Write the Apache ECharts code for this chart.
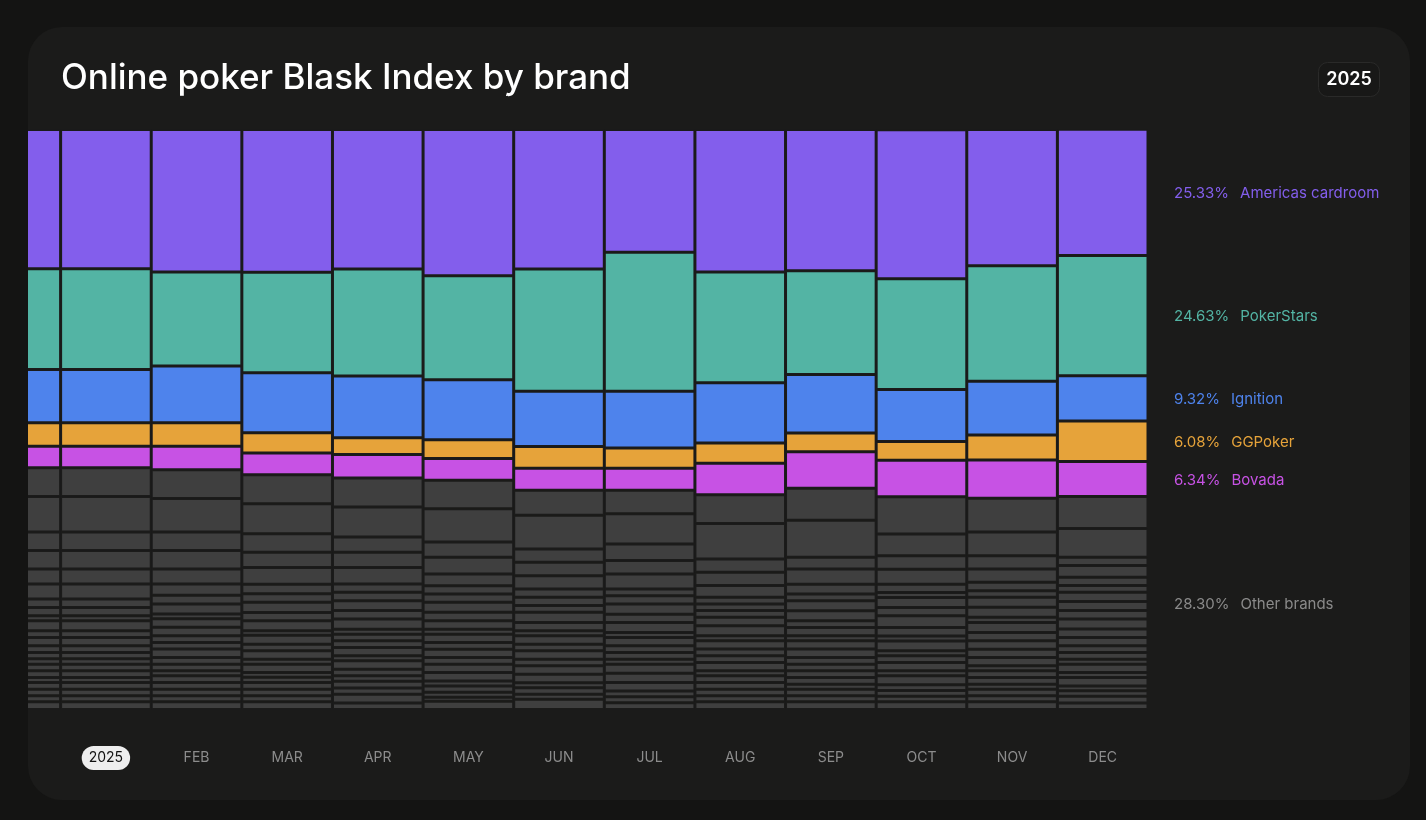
<!DOCTYPE html>
<html>
<head>
<meta charset="utf-8">
<script src="https://cdn.jsdelivr.net/npm/echarts@6/dist/echarts.min.js"></script>
<style>
  html, body { margin: 0; padding: 0; background: #141413; width: 1426px; height: 820px; overflow: hidden; }
  #card { position: absolute; left: 28px; top: 27px; width: 1382px; height: 773px; background: #1b1b1a; border-radius: 34px; overflow: hidden; }
  /* chart canvas starts 30px left of the page edge so the previous column is cut by the card */
  #chart { position: absolute; left: -58px; top: -27px; width: 1456px; height: 820px; }
</style>
</head>
<body>
<div id="card"><div id="chart"></div></div>
<script>
// Categories (first is the partially visible previous column)
const months = ['', '2025', 'FEB', 'MAR', 'APR', 'MAY', 'JUN', 'JUL', 'AUG', 'SEP', 'OCT', 'NOV', 'DEC'];

// Brand shares (%)
const americas   = [24.05, 24.05, 24.57, 24.60, 24.05, 25.21, 24.05, 21.16, 24.57, 24.34, 25.72, 23.48, 21.76];
const pokerstars = [17.33, 17.33, 16.24, 17.34, 18.48, 17.93, 21.07, 23.97, 19.10, 17.90, 19.07, 19.91, 20.74];
const ignition   = [9.19, 9.19, 9.76, 10.34, 10.62, 10.34, 9.53, 9.79, 10.38, 10.09, 8.97, 9.28, 7.81];
const ggpoker    = [4.05, 4.05, 4.05, 3.48, 2.91, 3.24, 3.74, 3.48, 3.50, 3.22, 3.22, 4.31, 6.97];
const bovada     = [3.74, 3.74, 4.05, 3.74, 4.02, 3.74, 3.79, 3.79, 5.43, 6.29, 6.33, 6.60, 6.03];

// Legend labels
const brandNames = ['Americas cardroom', 'PokerStars', 'Ignition', 'GGPoker', 'Bovada'];
const brandPct   = ['25.33%', '24.63%', '9.32%', '6.08%', '6.34%'];
const otherName  = 'Other brands';
const otherPct   = '28.30%';

// Other brands segments per column, top to bottom (%)
const oPREV = [4.95,6.09,3.22,3.16,2.62,2.55,1.47,1.43,0.86,1.72,1.16,1.43,1.16,1.09,0.93,1.14,1.16,0.86,1.16,1.14,1.02,1.34];
const oJAN  = [4.95,6.09,3.22,3.16,2.62,2.55,1.47,1.43,0.86,1.72,1.16,1.43,1.16,1.09,0.93,1.14,1.16,0.86,1.16,1.14,1.02,1.34];
const oFEB  = [4.95,5.78,3.19,3.19,2.62,1.91,1.53,1.72,0.83,1.47,1.43,1.16,1.16,1.43,1.16,1.14,0.86,1.16,1.16,1.14,1.02,1.34];
const oMAR  = [5.00,5.17,3.21,2.62,2.88,1.66,1.47,1.76,1.43,1.72,0.78,1.53,1.14,1.45,0.86,1.43,0.81,0.91,1.16,1.14,1.02,1.34];
const oAPR  = [5.00,5.17,2.64,2.62,2.88,1.40,1.45,1.69,1.47,1.76,0.86,1.14,1.16,1.43,0.86,1.45,1.14,0.93,1.17,1.09,1.50,1.12];
const oMAY  = [4.91,5.74,2.64,2.88,2.02,1.43,1.43,1.72,1.47,1.45,0.86,1.43,1.16,1.43,1.16,1.43,1.47,0.86,1.07,0.86,0.71,1.41];
const oJUN  = [4.33,5.81,2.29,2.31,2.29,1.43,1.45,1.14,1.76,1.43,0.86,1.45,1.14,1.45,1.14,1.45,1.47,0.86,1.14,0.86,1.76];
const oJUL  = [4.05,5.22,2.88,2.29,2.59,1.16,1.43,1.76,1.43,1.72,0.86,1.43,1.16,1.16,0.86,1.57,1.59,1.47,1.00,1.02,1.17];
const oAUG  = [4.98,6.09,2.29,2.31,2.00,1.16,1.12,1.17,1.47,1.72,0.86,1.45,1.14,1.16,1.43,0.86,1.16,1.16,1.14,1.02,1.34];
const oSEP  = [5.53,6.38,2.02,2.62,1.69,1.16,1.72,1.72,1.17,1.43,0.86,1.45,1.43,1.16,1.14,1.16,1.16,0.86,1.14,1.02,1.34];
const oOCT  = [6.38,3.79,2.29,2.62,1.40,0.86,1.72,1.45,2.03,1.43,0.86,1.72,0.86,1.16,1.43,0.86,1.53,1.00,0.98,0.95,1.34];
const oNOV  = [5.81,4.09,2.29,2.29,1.45,1.14,1.72,1.72,0.90,1.72,1.43,1.45,1.43,1.43,0.86,1.16,1.16,0.86,1.14,1.02,1.34];
const oDEC  = [5.52,4.93,1.45,2.00,1.45,1.14,1.59,1.59,1.43,1.76,1.43,1.43,1.16,1.16,0.86,1.43,0.86,1.47,0.83,0.95,1.16,1.12];

const otherCols = [oPREV, oJAN, oFEB, oMAR, oAPR, oMAY, oJUN, oJUL, oAUG, oSEP, oOCT, oNOV, oDEC];

const OX = 30; // chart canvas x offset relative to page
const BG = '#1b1b1a';
const FONT = 'Inter, "Noto Sans", sans-serif';
const colors = {
  'Americas cardroom': '#835EEC',
  'PokerStars': '#53B4A4',
  'Ignition': '#4E83EC',
  'GGPoker': '#E6A33A',
  'Bovada': '#C752E4'
};
const grayFill = '#3f3f3f';
const itemBase = { borderColor: BG, borderWidth: 1.5 };

const series = [];
const maxLen = Math.max(...otherCols.map(a => a.length));
for (let k = 0; k < maxLen; k++) {
  series.push({
    type: 'bar', stack: 'all', name: 'other' + k,
    barCategoryGap: '0%',
    itemStyle: Object.assign({ color: grayFill }, itemBase),
    data: otherCols.map(a => (k < a.length ? a[a.length - 1 - k] : '-')),
    silent: true
  });
}
const brandData = [bovada, ggpoker, ignition, pokerstars, americas];
const brandOrder = ['Bovada', 'GGPoker', 'Ignition', 'PokerStars', 'Americas cardroom'];
brandOrder.forEach((nm, i) => {
  const col = colors[nm];
  const pct = brandPct[brandNames.indexOf(nm)];
  const arr = brandData[i];
  series.push({
    type: 'bar', stack: 'all', name: nm,
    barCategoryGap: '0%',
    itemStyle: Object.assign({ color: col }, itemBase),
    silent: true,
    data: arr.map((v, j) => j === arr.length - 1 ? {
      value: v,
      label: {
        show: true, position: 'right', distance: 26, offset: [0, 1],
        formatter: '{p|' + pct + '}{n|' + nm + '}',
        rich: {
          p: { color: col, fontSize: 15, fontFamily: FONT },
          n: { color: col, fontSize: 15, fontFamily: FONT, padding: [0, 0, 0, 11] }
        }
      }
    } : v)
  });
});

const chart = echarts.init(document.getElementById('chart'), null, { renderer: 'canvas' });
chart.setOption({
  animation: false,
  backgroundColor: 'transparent',
  grid: { left: 0, width: 1178, top: 129.5, height: 580 },
  xAxis: {
    type: 'category', data: months,
    axisLine: { show: false }, axisTick: { show: false },
    axisLabel: {
      margin: 36.5, interval: 0,
      formatter: v => v === '2025' ? '{pill|2025}' : '{m|' + v + '}',
      rich: {
        pill: { backgroundColor: '#eeeeee', color: '#111111', borderRadius: 13, padding: [5, 7, 5, 7], fontSize: 14, fontFamily: FONT },
        m: { color: '#8c8c8c', padding: [5, 7, 5, 7], fontSize: 14, fontFamily: FONT }
      }
    }
  },
  yAxis: { type: 'value', min: 0, max: 100, show: false },
  series: series
});

// "Other brands" legend label centred on the DEC other-brands block
const last = otherCols.length - 1;
const otherSum = otherCols[last].reduce((s, v) => s + v, 0);
const pt = chart.convertToPixel({ gridIndex: 0 }, [last, otherSum / 2]);
chart.setOption({
  graphic: [
    { id: 'title', type: 'text', x: 61 + OX, y: 61, style: { text: 'Online poker Blask Index by brand', fill: '#ffffff', font: '500 35px ' + FONT } },
    { id: 'badge', type: 'rect', shape: { x: 1318.5 + OX, y: 62.5, width: 61, height: 34, r: 9 }, style: { fill: '#181817', stroke: '#2a2a29', lineWidth: 1 } },
    { id: 'badgeText', type: 'text', x: 1349 + OX, y: 79.5, style: { text: '2025', fill: '#ffffff', font: '600 18px ' + FONT, textAlign: 'center', textVerticalAlign: 'middle' } },
    { id: 'other', type: 'text', x: pt[0] + 45.3 + 26, y: pt[1] + 1, style: {
        text: '{p|' + otherPct + '}{n|' + otherName + '}',
        textVerticalAlign: 'middle',
        rich: {
          p: { fill: '#8a8a8a', fontSize: 15, fontFamily: FONT },
          n: { fill: '#8a8a8a', fontSize: 15, fontFamily: FONT, padding: [0, 0, 0, 11] }
        }
      } }
  ]
});
</script>
</body>
</html>
